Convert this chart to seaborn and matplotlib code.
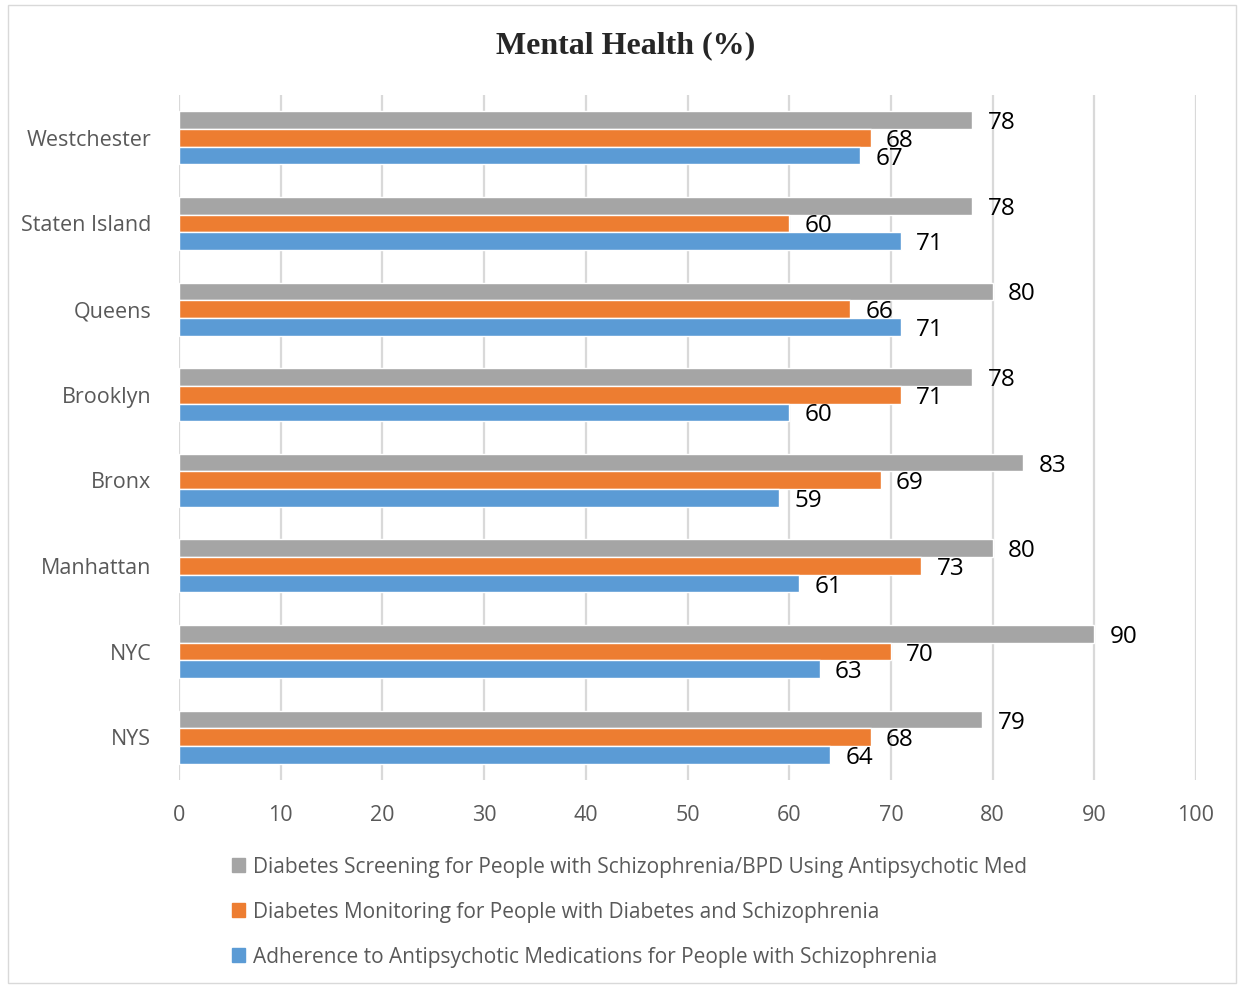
import pandas as pd
import matplotlib.pyplot as plt
import matplotlib.patches as mpatches
import seaborn as sns

# Datos
regiones = ['Westchester', 'Staten Island', 'Queens', 'Brooklyn', 'Bronx', 'Manhattan', 'NYC', 'NYS']
series = [
    'Diabetes Screening for People with Schizophrenia/BPD Using Antipsychotic Med',
    'Diabetes Monitoring for People with Diabetes and Schizophrenia',
    'Adherence to Antipsychotic Medications for People with Schizophrenia',
]
screening = [78, 78, 80, 78, 83, 80, 90, 79]
monitoring = [68, 60, 66, 71, 69, 73, 70, 68]
adherence = [67, 71, 71, 60, 59, 61, 63, 64]
colores = ['#A5A5A5', '#ED7D31', '#5B9BD5']
xticks = [0, 10, 20, 30, 40, 50, 60, 70, 80, 90, 100]

df = pd.DataFrame({'region': regiones, series[0]: screening, series[1]: monitoring, series[2]: adherence})
largo = df.melt(id_vars='region', var_name='serie', value_name='valor')

sns.set_style('white')
plt.rcParams['font.family'] = ['Open Sans', 'DejaVu Sans']

fig = plt.figure(figsize=(12.39, 9.85), dpi=100)
ax = fig.add_axes([179 / 1239, 1 - 780 / 985, (1196 - 179) / 1239, (780 - 95) / 985])

sns.barplot(data=largo, y='region', x='valor', hue='serie', order=regiones, hue_order=series,
            palette=colores, orient='h', width=0.62, ax=ax, saturation=1, legend=False)

# Etiquetas de valor (un poco por debajo del centro, como en Excel)
for cont in ax.containers:
    etiquetas = ax.bar_label(cont, padding=11, fontsize=17.5, color='black')
    for t in etiquetas:
        t.xyann = (11, -2.2)

ax.set_xlim(0, 100)
ax.set_xticks(xticks)
ax.set_xlabel('')
ax.set_ylabel('')
ax.grid(axis='x', color='#D9D9D9', linewidth=1.6)
ax.set_axisbelow(True)
for s in ax.spines.values():
    s.set_visible(False)
ax.tick_params(axis='both', length=0, labelsize=15.5, colors='#595959')
ax.tick_params(axis='x', pad=18)
ax.tick_params(axis='y', pad=20)

fig.text(0.505, 1 - 46 / 985, 'Mental Health (%)', ha='center', va='center',
         fontsize=23, fontweight='bold', family='Liberation Serif')

handles = [mpatches.Patch(color=c, label=s) for c, s in zip(colores, series)]
fig.legend(handles=handles, loc='upper left', bbox_to_anchor=(213 / 1239, 1 - 838 / 985),
           frameon=False, fontsize=15, labelcolor='#595959', handlelength=0.65, handleheight=0.65,
           handletextpad=0.35, labelspacing=1.15)

fig.patches.append(mpatches.Rectangle((8 / 1239, 2 / 985), 1228 / 1239, 978 / 985, transform=fig.transFigure,
                                      fill=False, edgecolor='#D9D9D9', linewidth=1))

plt.savefig('out.png', dpi=100)
